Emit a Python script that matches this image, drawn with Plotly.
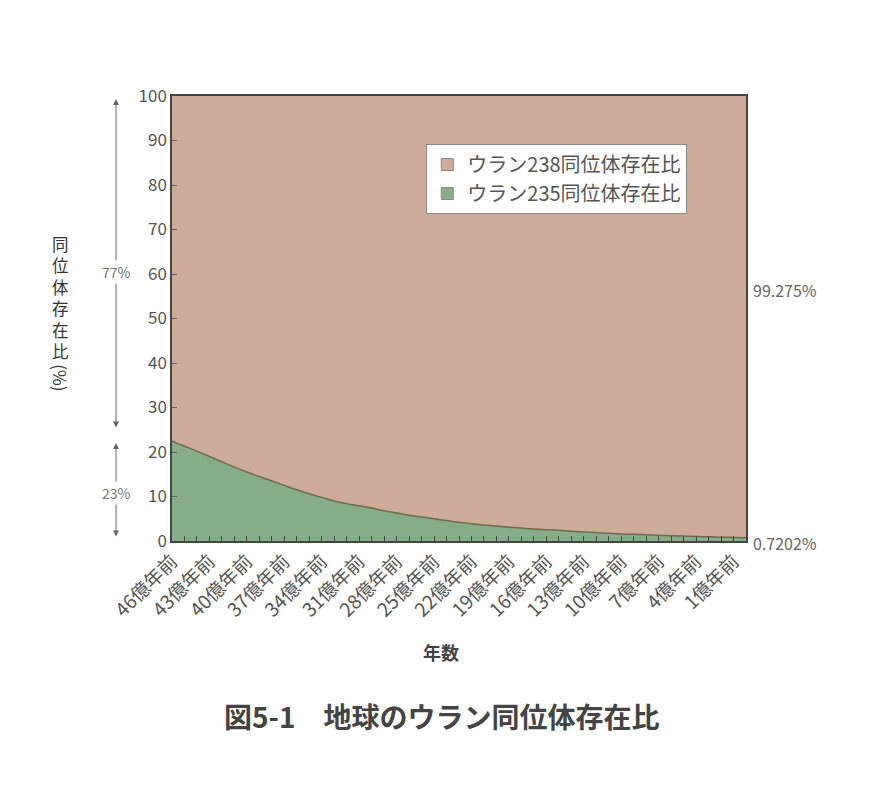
import plotly.graph_objects as go

# Years before present (億年前), 46 -> 0
years = list(range(46, -1, -1))
categories = [f"{y}億年前" for y in years]

# U-235 abundance (%)
u235 = [22.5, 21.3, 20.2, 19.0, 17.8, 16.6, 15.5, 14.5, 13.5, 12.5, 11.5, 10.6,
        9.8, 9.0, 8.4, 7.9, 7.4, 6.8, 6.3, 5.8, 5.4, 5.0, 4.6, 4.2, 3.9, 3.6,
        3.35, 3.1, 2.9, 2.7, 2.55, 2.4, 2.2, 2.05, 1.9, 1.75, 1.6, 1.5, 1.4,
        1.3, 1.2, 1.1, 1.0, 0.93, 0.86, 0.79, 0.72]
# U-238 abundance (%)
u238 = [77.5, 78.7, 79.8, 81.0, 82.2, 83.4, 84.5, 85.5, 86.5, 87.5, 88.5, 89.4,
        90.2, 91.0, 91.6, 92.1, 92.6, 93.2, 93.7, 94.2, 94.6, 95.0, 95.4, 95.8,
        96.1, 96.4, 96.65, 96.9, 97.1, 97.3, 97.45, 97.6, 97.8, 97.95, 98.1,
        98.25, 98.4, 98.5, 98.6, 98.7, 98.8, 98.9, 99.0, 99.07, 99.14, 99.21, 99.28]

series_names = ["ウラン235同位体存在比", "ウラン238同位体存在比"]
y_ticks = [0, 10, 20, 30, 40, 50, 60, 70, 80, 90, 100]
y_title = "同位体存在比"
y_unit = "(%)"

FONT = "Noto Sans CJK JP, Noto Sans, sans-serif"
GRAY = "#555555"
TAN = "#CDAC9A"
GREEN = "#86AD88"

fig = go.Figure()
fig.add_trace(go.Scatter(
    x=categories, y=u235, name=series_names[0], stackgroup="one",
    mode="lines", line=dict(color="#6E6A4E", width=1.5, shape="spline"),
    fillcolor=GREEN, hoverinfo="skip", showlegend=False))
fig.add_trace(go.Scatter(
    x=categories, y=u238, name=series_names[1], stackgroup="one",
    mode="lines", line=dict(color=TAN, width=0, shape="spline"),
    fillcolor=TAN, hoverinfo="skip", showlegend=False))
# legend entries (box swatches)
fig.add_trace(go.Bar(x=[categories[0]], y=[None], name=series_names[1],
                     marker=dict(color=TAN, line=dict(color="#8a8a8a", width=1))))
fig.add_trace(go.Bar(x=[categories[0]], y=[None], name=series_names[0],
                     marker=dict(color=GREEN, line=dict(color="#8a8a8a", width=1))))

ticktext = [c if i % 3 == 0 else "" for i, c in enumerate(categories)]

PT, PB = 96, 541


def py(px):
    return (PB - px) / (PB - PT)


# page body has an 8px margin, so figure coords = screen coords - 8
fig.update_layout(
    width=884, height=801,
    paper_bgcolor="white", plot_bgcolor=TAN,
    margin=dict(l=164, r=146, t=88, b=268, autoexpand=False),
    font=dict(family=FONT, color=GRAY),
    showlegend=True,
    legend=dict(x=0.443, y=py(179), xanchor="left", yanchor="middle",
                traceorder="normal", bgcolor="white",
                bordercolor="#888888", borderwidth=1,
                font=dict(size=20, color=GRAY, family=FONT),
                tracegroupgap=0),
    xaxis=dict(
        type="category", range=[0, 46],
        tickmode="array", tickvals=categories, ticktext=ticktext,
        tickangle=-45, tickfont=dict(size=19, color=GRAY, family=FONT),
        ticks="inside", ticklen=5, tickcolor="#444444",
        showline=True, linecolor="#444444", linewidth=1.5, mirror=True,
        showgrid=False, zeroline=False),
    yaxis=dict(
        range=[0, 100], tickmode="array", tickvals=y_ticks,
        tickfont=dict(size=17, color=GRAY, family=FONT),
        ticks="inside", ticklen=5, tickcolor="#666666",
        showline=True, linecolor="#444444", linewidth=1.5, mirror=True,
        showgrid=False, zeroline=False),
)

ann = []
# y-axis title, vertical stacked characters (one line per character)
ann.append(dict(text="<br>".join(y_title), xref="paper", yref="paper",
                x=-0.194, y=py(297), xanchor="center", yanchor="middle",
                showarrow=False,
                font=dict(size=16.5, color="#333333", family=FONT)))
ann.append(dict(text=y_unit, xref="paper", yref="paper",
                x=-0.194, y=py(378), xanchor="center", yanchor="middle",
                showarrow=False, textangle=90,
                font=dict(size=17, color="#333333", family=FONT)))
# double-headed arrows
ax_x = -0.0975
ann.append(dict(text="", xref="paper", yref="paper", x=ax_x, y=py(99),
                ax=0, ay=330, showarrow=True, arrowside="end+start",
                arrowhead=2, arrowsize=1.2, arrowwidth=1, arrowcolor="#666666"))
ann.append(dict(text="", xref="paper", yref="paper", x=ax_x, y=py(443),
                ax=0, ay=95, showarrow=True, arrowside="end+start",
                arrowhead=2, arrowsize=1.2, arrowwidth=1, arrowcolor="#666666"))
ann.append(dict(text="77%", xref="paper", yref="paper", x=ax_x, y=py(272),
                xanchor="center", yanchor="middle",
                showarrow=False, bgcolor="white",
                font=dict(size=14, color="#777777", family=FONT)))
ann.append(dict(text="23%", xref="paper", yref="paper", x=ax_x, y=py(493),
                xanchor="center", yanchor="middle",
                showarrow=False, bgcolor="white",
                font=dict(size=14, color="#777777", family=FONT)))
# right side labels
ann.append(dict(text="99.275%", xref="paper", yref="paper", x=1.008, y=py(290),
                xanchor="left", yanchor="middle", showarrow=False,
                font=dict(size=16, color="#666666", family=FONT)))
ann.append(dict(text="0.7202%", xref="paper", yref="paper", x=1.008, y=py(543),
                xanchor="left", yanchor="middle", showarrow=False,
                font=dict(size=16, color="#666666", family=FONT)))
# x-axis title
ann.append(dict(text="<b>年数</b>", xref="paper", yref="paper", x=0.468, y=py(652),
                xanchor="center", yanchor="middle", showarrow=False,
                font=dict(size=18, color="#444444", family=FONT)))
# caption
ann.append(dict(text="<b>図5-1　地球のウラン同位体存在比</b>", xref="paper", yref="paper",
                x=0.47, y=py(716), xanchor="center", yanchor="middle", showarrow=False,
                font=dict(size=28, color="#444444", family=FONT)))
fig.update_layout(annotations=ann)

fig.write_html("out.html")
